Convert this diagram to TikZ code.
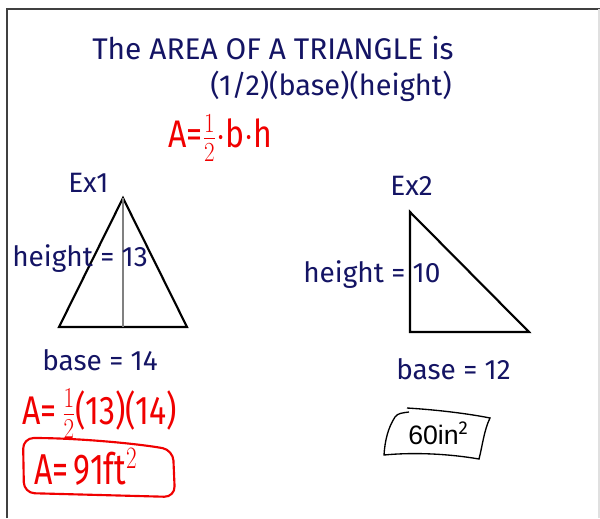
\documentclass[tikz,border=0pt]{standalone}
\usepackage{fontspec}
\setmainfont{Fira Sans}
\newfontfamily\arialf{Liberation Sans}
\definecolor{navy}{RGB}{20,20,100}
\definecolor{hred}{RGB}{240,0,0}
\tikzset{
  navytext/.style={text=navy, inner sep=0pt, font=\fontsize{21}{24}\selectfont},
  redtext/.style={text=hred, inner sep=0pt, font=\fontsize{24}{26}\selectfont},
  tri/.style={draw=black, line width=1.6pt, line join=miter},
}
\begin{document}
\begin{tikzpicture}[x=0.75pt,y=-0.75pt]
\useasboundingbox (0,0) rectangle (600,518);
% frame
\draw[line width=1.2pt, black!75] (7,518) -- (7,9) -- (600,9);
\draw[line width=0.8pt, black!12] (599,9) -- (599,518);
% titles
\node[navytext, anchor=west, font=\fontsize{22.4}{26}\selectfont] (title) at (92,48) {The AREA OF A TRIANGLE is};
\node[navytext, anchor=west, font=\fontsize{21.7}{26}\selectfont] (formula) at (210,86) {(1/2)(base)(height)};
\node[redtext, anchor=west] (redf) at (168,138) {\scalebox{1}[1.2]{A=$\frac{1}{2}$$\cdot$b$\cdot$h}};
% Ex1
\node[navytext, anchor=west] (ex1) at (68,183) {Ex1};
\coordinate (t1a) at (123,198);
\coordinate (t1l) at (59,327);
\coordinate (t1r) at (187,327);
\coordinate (t1f) at (123,327);
\draw[tri] (t1a) -- (t1l) -- (t1r) -- cycle;
\draw[line width=1.2pt, gray] (t1a) -- (t1f);
\node[navytext, anchor=west] (h1) at (12,259) {height = 13};
\node[navytext, anchor=west] (b1) at (42,360) {base = 14};
% Ex2
\node[navytext, anchor=west] (ex2) at (390,186) {Ex2};
\coordinate (t2a) at (410,212);
\coordinate (t2l) at (410,332);
\coordinate (t2r) at (529,332);
\draw[tri] (t2a) -- (t2l) -- (t2r) -- cycle;
\node[navytext, anchor=west] (h2) at (303,275) {height = 10};
\node[navytext, anchor=west] (b2) at (396,369) {base = 12};
% red work
\node[redtext, anchor=west] (w1) at (22,414) {\scalebox{1}[1.25]{A=\,$\frac{1}{2}$(13)(14)}};
\node[redtext, anchor=west] (w2) at (34,467) {\scalebox{1}[1.35]{A=\,91ft$^2$}};
\draw[hred, line width=1.6pt, rounded corners=8pt] (23,438) .. controls (80,438) and (140,444) .. (173,450) -- (175,497) -- (24,493) -- cycle;
% answer 2
\node[inner sep=0pt, anchor=west, font=\arialf\fontsize{20}{22}\selectfont] (a2) at (408,433) {60in$^{\mathrm{2}}$};
\draw[black, line width=1pt] (407,408) .. controls (440,410) and (470,414) .. (490,418)
  .. controls (484,430) and (482,448) .. (479,459)
  .. controls (450,454) and (415,452) .. (384,455)
  .. controls (385,440) and (388,428) .. (395,417)
  .. controls (398,413) and (402,413) .. (409,412);
\end{tikzpicture}
\end{document}
